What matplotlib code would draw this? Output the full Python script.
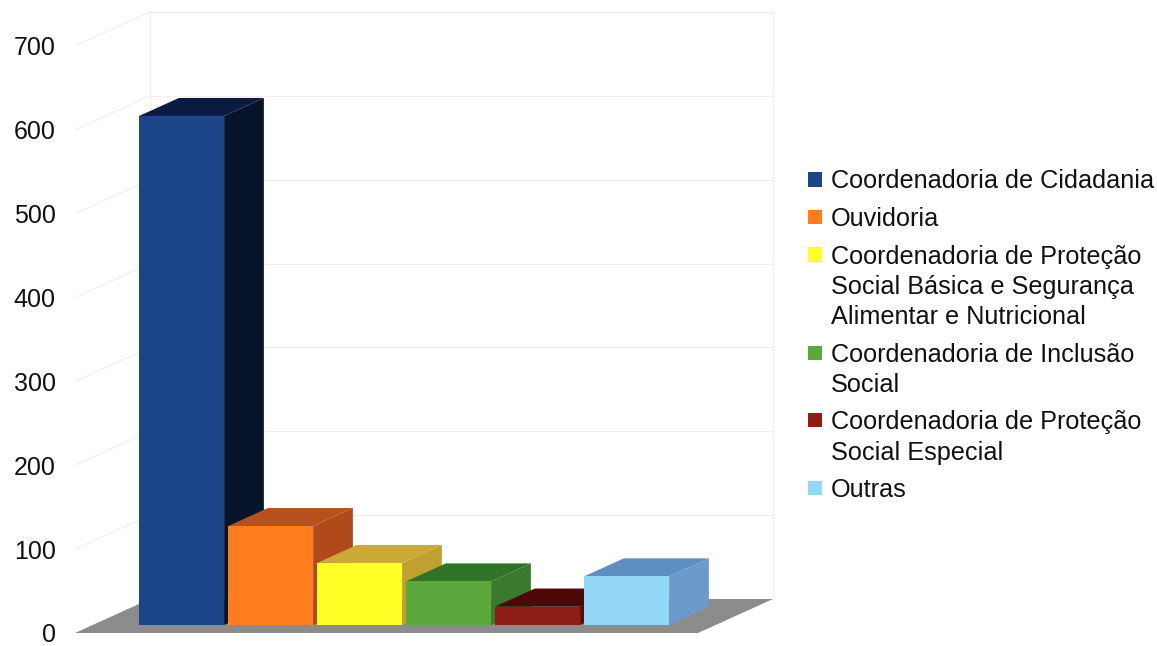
import matplotlib
matplotlib.use('Agg')
import matplotlib.pyplot as plt
from matplotlib.patches import Polygon, Rectangle

plt.rcParams['font.family'] = ['Liberation Sans', 'DejaVu Sans']

categories = ['Coordenadoria de Cidadania',
              'Ouvidoria',
              'Coordenadoria de Proteção\nSocial Básica e Segurança\nAlimentar e Nutricional',
              'Coordenadoria de Inclusão\nSocial',
              'Coordenadoria de Proteção\nSocial Especial',
              'Outras']
values = [607, 118, 74, 52, 22, 58]
yticks = [0, 100, 200, 300, 400, 500, 600, 700]

front_colors = ['#1b4586', '#ff7d1f', '#ffff26', '#5da83d', '#8e1d15', '#93d9f7']
top_colors = ['#0b1a40', '#b8501e', '#caa934', '#2f7426', '#4d0707', '#5e8fc2']
side_colors = ['#07132b', '#b14a1b', '#c0a030', '#3b7a2c', '#5a0b0b', '#6b9acb']

W, H = 1157, 646
PX_X = 89.0      # pixels per category
PX_Y = 0.8386    # pixels per value unit

# oblique depth (full depth of the box), in data units
DX = 75 / PX_X
DY = 34 / PX_Y
F0, F1 = 0.235, 0.765   # bar front / back depth fraction
BAR_W = 0.955

fig = plt.figure(figsize=(W / 100, H / 100), dpi=100)
ax = fig.add_axes([75 / W, 0, 700 / W, 1])
ax.set_xlim(-1, -1 + 700 / PX_X)
ax.set_ylim(-13 / PX_Y, 633 / PX_Y)

n = len(values)
xl, xr = -1, n

# walls grid (very faint)
grid_kw = dict(color='#f1f1ea', lw=0.9, zorder=0.5)
for v in yticks[1:]:
    ax.plot([xl + DX, xr + DX], [v + DY, v + DY], **grid_kw)
    ax.plot([xl, xl + DX], [v, v + DY], **grid_kw)
ax.plot([xl + DX, xl + DX], [DY, yticks[-1] + DY], **grid_kw)
ax.plot([xr + DX, xr + DX], [DY, yticks[-1] + DY], **grid_kw)

# floor
ax.add_patch(Polygon([(xl, 0), (xr, 0), (xr + DX, DY), (xl + DX, DY)],
                     closed=True, facecolor='#8c8c8c', edgecolor='none', zorder=1))

# bars
y0 = F0 * DY
ddx = (F1 - F0) * DX
ddy = (F1 - F0) * DY
for i, v in enumerate(values):
    cx = i + F0 * DX
    x0, x1 = cx - BAR_W / 2, cx + BAR_W / 2
    y1 = y0 + v
    z = 2 + 3 * i
    ax.add_patch(Polygon([(x1, y0), (x1 + ddx, y0 + ddy), (x1 + ddx, y1 + ddy), (x1, y1)],
                         closed=True, facecolor=side_colors[i], edgecolor='none', zorder=z))
    ax.add_patch(Polygon([(x0, y1), (x1, y1), (x1 + ddx, y1 + ddy), (x0 + ddx, y1 + ddy)],
                         closed=True, facecolor=top_colors[i], edgecolor='none', zorder=z + 1))
    ax.bar(cx, v, width=BAR_W, bottom=y0, color=front_colors[i], zorder=z + 2)

for s in ax.spines.values():
    s.set_visible(False)
ax.set_xticks([])
ax.set_yticks(yticks)
ax.tick_params(axis='y', length=0, pad=14, labelsize=18, labelcolor='#111111')
ax.patch.set_alpha(0)

# legend
y_line = 179.5
for i, lab in enumerate(categories):
    lines = lab.split('\n')
    fig.patches.append(Rectangle((808 / W, 1 - (y_line + 7) / H), 14 / W, 14 / H,
                                 transform=fig.transFigure, facecolor=front_colors[i],
                                 edgecolor='none'))
    for k, line in enumerate(lines):
        fig.text(831 / W, 1 - (y_line + 9) / H, line, fontsize=18.2, color='#111111',
                 ha='left', va='baseline')
        if k < len(lines) - 1:
            y_line += 30.3
    y_line += 37.5

fig.savefig('out.png', dpi=100)
